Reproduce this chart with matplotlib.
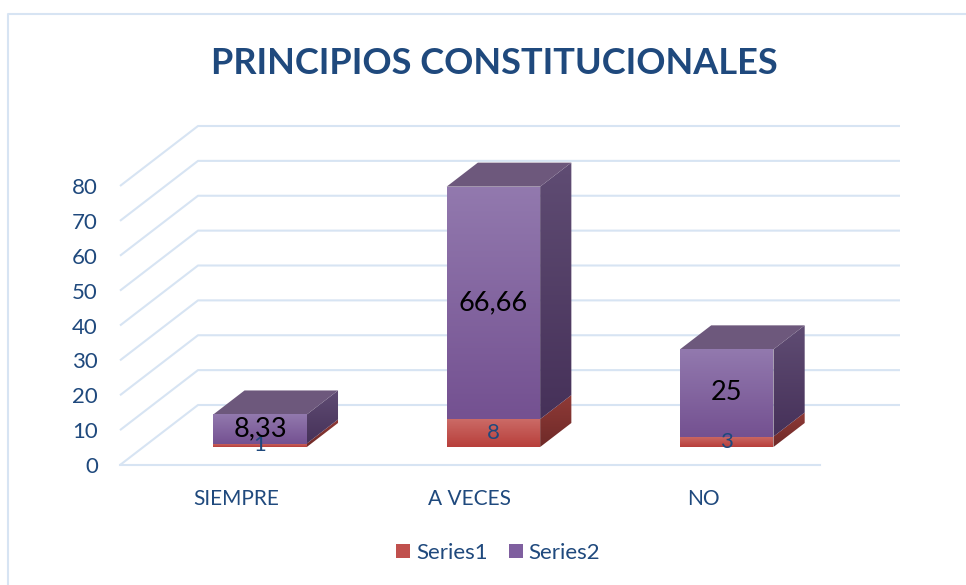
import numpy as np
import matplotlib
matplotlib.use("Agg")
import matplotlib.pyplot as plt
from matplotlib.lines import Line2D
from matplotlib.patches import Patch, Polygon
from matplotlib.colors import LinearSegmentedColormap

plt.rcParams['font.family'] = ['Lato', 'DejaVu Sans']

title = "PRINCIPIOS CONSTITUCIONALES"
categories = ["SIEMPRE", "A VECES", "NO"]
series1 = [1, 8, 3]
series2 = [8.33, 66.66, 25]
series_names = ["Series1", "Series2"]
yticks = [0, 10, 20, 30, 40, 50, 60, 70, 80]
label1 = ["1", "8", "3"]
label2 = ["8,33", "66,66", "25"]

W, H = 966, 585
TEXT = "#1F497D"
GRID = "#D7E4F3"

fig = plt.figure(figsize=(W / 100, H / 100), dpi=100, facecolor="white")
# front plane of the 3D box, in pixels
L, R, B, T = 120, 820, 465, 186
ax = fig.add_axes([L / W, 1 - B / H, (R - L) / W, (B - T) / H])
ax.set_xlim(0, 3)
ax.set_ylim(0, 80)
for s in ax.spines.values():
    s.set_visible(False)
ax.patch.set_visible(False)

# oblique projection: depth d in 0..1 moves a point right and up
DX = 78 / ((R - L) / 3)
DY = 60 / ((B - T) / 80)


def proj(x, v, d):
    return x + d * DX, v + d * DY


# walls
X_END = 3 + 2 / ((R - L) / 3)
for v in yticks:
    xs, ys = zip(proj(0, v, 0), proj(0, v, 1), proj(X_END, v, 1))
    ax.plot(xs, ys, color=GRID, lw=1.5, clip_on=False, zorder=1, solid_capstyle="butt")
ax.plot([0, 3], [0, 0], color=GRID, lw=1.5, clip_on=False, zorder=1)


def cmap(c0, c1):
    return LinearSegmentedColormap.from_list("g", [c0, c1])


def face(pts, c0, c1, z):
    xs = [p[0] for p in pts]
    ys = [p[1] for p in pts]
    im = ax.imshow(np.linspace(1, 0, 64).reshape(-1, 1), cmap=cmap(c0, c1), aspect="auto",
                   extent=(min(xs), max(xs), min(ys), max(ys)), zorder=z, origin="lower",
                   interpolation="bilinear")
    p = Polygon(pts, closed=True, transform=ax.transData, fc="none", ec="none")
    im.set_clip_path(p)
    im.set_clip_box(fig.bbox)


BAR_W = 93.5 / ((R - L) / 3)
D0, D1 = 0.3, 0.7


def box(i, lo, hi, front, side, top=None, z=3):
    x0, x1 = i + 0.5 - BAR_W / 2, i + 0.5 + BAR_W / 2
    face([proj(x0, lo, D0), proj(x1, lo, D0), proj(x1, hi, D0), proj(x0, hi, D0)],
         front[0], front[1], z + 0.2)
    face([proj(x1, lo, D0), proj(x1, lo, D1), proj(x1, hi, D1), proj(x1, hi, D0)],
         side[0], side[1], z + 0.1)
    if top is not None:
        ax.add_patch(Polygon([proj(x0, hi, D0), proj(x1, hi, D0), proj(x1, hi, D1), proj(x0, hi, D1)],
                             closed=True, fc=top, ec="none", zorder=z + 0.1, clip_on=False))


for i, (a, b) in enumerate(zip(series1, series2)):
    box(i, 0, a, ("#CB6A66", "#B83F3B"), ("#8F3A37", "#6F2A28"))
    box(i, a, a + b, ("#9279AE", "#745191"), ("#5F4C73", "#463159"), top="#6D587C", z=4)
    x, _ = proj(i + 0.5, 0, D0)
    _, y1 = proj(i + 0.5, a / 2, D0)
    _, y2 = proj(i + 0.5, a + b / 2, D0)
    ax.text(x, y1, label1[i], ha="center", va="center", color=TEXT, fontsize=16, zorder=6)
    ax.text(x, y2, label2[i], ha="center", va="center", color="black", fontsize=19.5, zorder=7)

ax.set_xlim(0, 3)
ax.set_ylim(0, 80)
ax.set_yticks(yticks)
ax.set_xticks([0.5, 1.5, 2.5], categories)
ax.tick_params(axis="y", length=0, pad=16, labelsize=16, labelcolor=TEXT)
ax.tick_params(axis="x", length=0, pad=17.5, labelsize=15, labelcolor=TEXT)

fig.text(494 / W, 1 - 63 / H, title, ha="center", va="center", color=TEXT,
         fontsize=26, fontweight="bold")

handles = [Patch(fc="#C0504D", label=series_names[0]), Patch(fc="#7F5F9F", label=series_names[1])]
fig.legend(handles=handles, loc="center", bbox_to_anchor=(498 / W, 1 - 553 / H), ncol=2, frameon=False,
           fontsize=16, labelcolor=TEXT, handlelength=0.63, handleheight=0.63, handletextpad=0.25,
           columnspacing=0.95)

# chart frame, cut off by the image on the right and at the bottom
fig.add_artist(Line2D([8 / W, 8 / W, 1], [0, 1 - 14 / H, 1 - 14 / H], color=GRID, lw=1.5,
                      transform=fig.transFigure))

fig.savefig("out.png", dpi=100)
